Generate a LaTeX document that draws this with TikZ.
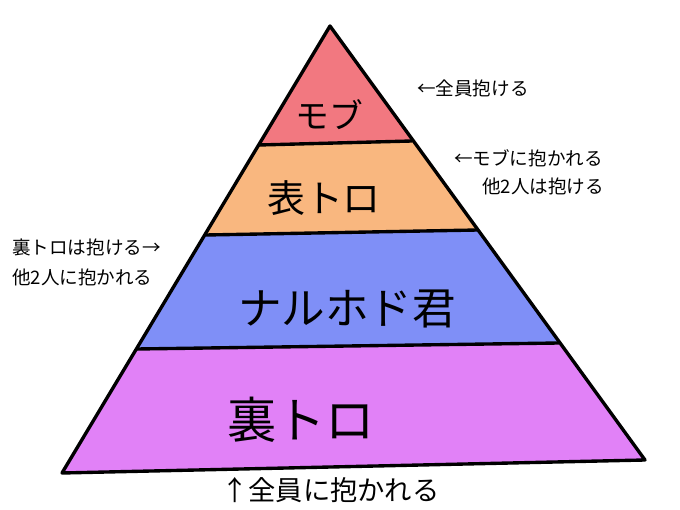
\documentclass[tikz,border=0pt]{standalone}
\usepackage{fontspec}
\setmainfont{Noto Sans CJK JP}

\definecolor{mobcol}{HTML}{F27880}
\definecolor{omotecol}{HTML}{F9B77F}
\definecolor{naruhodocol}{HTML}{7F8FF7}
\definecolor{uracol}{HTML}{E181F7}

\begin{document}
\begin{tikzpicture}[x=0.025cm, y=-0.025cm,
    tier/.style={draw=black, line width=2.4pt, line join=round},
    note/.style={font=\fontsize{13.2}{16}\selectfont, anchor=west, inner sep=0pt},
    hand/.style={inner sep=0pt}]
    \useasboundingbox (0,0) rectangle (680,510);

    % Corners
    \coordinate (top) at (330,26);
    \coordinate (baseL) at (62,473);
    \coordinate (baseR) at (645,460);
    \coordinate (c1L) at (259,145);
    \coordinate (c1R) at (412,141);
    \coordinate (c2L) at (206,235);
    \coordinate (c2R) at (478,230);
    \coordinate (c3L) at (137,349);
    \coordinate (c3R) at (559,343);

    % Tiers
    \fill[uracol] (c3L) -- (c3R) -- (baseR) -- (baseL) -- cycle;
    \fill[naruhodocol] (c2L) -- (c2R) -- (c3R) -- (c3L) -- cycle;
    \fill[omotecol] (c1L) -- (c1R) -- (c2R) -- (c2L) -- cycle;
    \fill[mobcol] (top) -- (c1R) -- (c1L) -- cycle;
    \draw[tier] (top) -- (baseR) -- (baseL) -- cycle;
    \draw[tier] (c1L) -- (c1R);
    \draw[tier] (c2L) -- (c2R);
    \draw[tier] (c3L) -- (c3R);

    % Tier names
    \node[hand, font=\fontsize{24}{28}\selectfont] (mob) at (329,115) {モブ};
    \node[hand, font=\fontsize{27}{32}\selectfont] (omote) at (324,198) {表トロ};
    \node[hand, font=\fontsize{31}{36}\selectfont] (naruhodo) at (347,309) {ナルホド君};
    \node[hand, font=\fontsize{35}{40}\selectfont] (ura) at (301,420) {裏トロ};

    % Notes
    \node[note] (mobnote) at (417,88) {←全員抱ける};
    \node[note] (omotenote) at (454,158) {←モブに抱かれる};
    \node[note] (omotenote2) at (482,186) {他2人は抱ける};
    \node[note] (naruhodonote) at (12,247) {裏トロは抱ける→};
    \node[note] (naruhodonote2) at (12,277) {他2人に抱かれる};
    \node[note, font=\fontsize{19.4}{23}\selectfont] (uranote) at (221,490) {↑全員に抱かれる};
\end{tikzpicture}
\end{document}
